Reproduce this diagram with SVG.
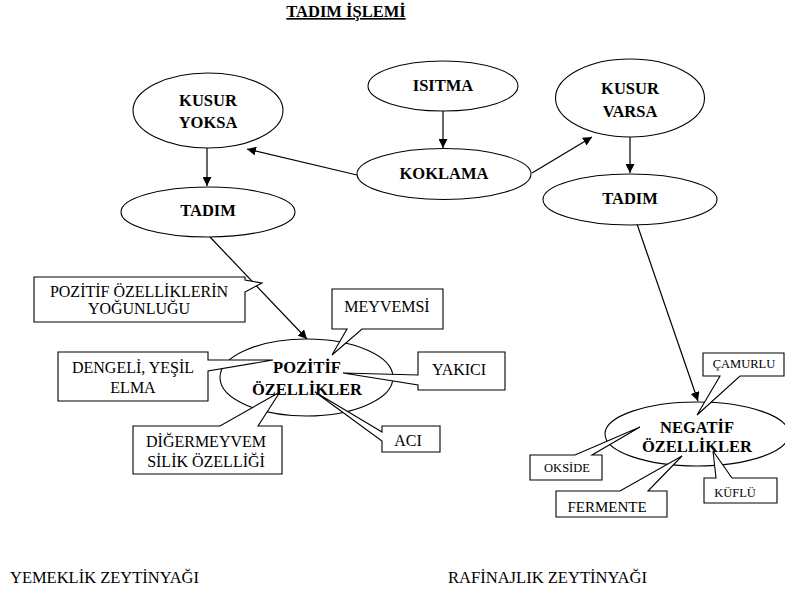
<svg xmlns="http://www.w3.org/2000/svg" width="785" height="598" viewBox="0 0 785 598">
<style>
.bg{fill:#fff}
.el{fill:#fff;stroke:#000;stroke-width:1.1}
.co{fill:#fff;stroke:#000;stroke-width:1.1;stroke-linejoin:miter}
text{font-family:'Liberation Serif','Tinos','Times New Roman','DejaVu Serif',serif;fill:#000;text-anchor:middle}
.nt{font-weight:bold;font-size:16.5px}
.ct{font-size:16px}
.st{font-size:12.5px}
.cn{fill:none;stroke:#000;stroke-width:1.2}
</style>
<defs>
<marker id="ah" viewBox="0 0 10 10" refX="10" refY="5" markerWidth="9" markerHeight="9" markerUnits="userSpaceOnUse" orient="auto">
<path d="M0,0 L10,5 L0,10 Z" fill="#000"/>
</marker>
</defs>
<rect class="bg" x="0" y="0" width="785" height="598"/>

<g id="title">
<text class="nt" x="346" y="17" text-decoration="underline">TADIM İŞLEMİ</text>
</g>

<g id="connectors">
<line class="cn" x1="443" y1="111" x2="443" y2="148" marker-end="url(#ah)"/>
<line class="cn" x1="357" y1="175" x2="247" y2="149" marker-end="url(#ah)"/>
<line class="cn" x1="532" y1="173" x2="592" y2="137" marker-end="url(#ah)"/>
<line class="cn" x1="207" y1="148" x2="207" y2="186" marker-end="url(#ah)"/>
<line class="cn" x1="630" y1="137" x2="630" y2="173" marker-end="url(#ah)"/>
<line class="cn" x1="210" y1="237" x2="307" y2="339" marker-end="url(#ah)"/>
<line class="cn" x1="637" y1="224" x2="698" y2="401" marker-end="url(#ah)"/>
</g>

<g id="isitma">
<ellipse class="el" cx="443" cy="86" rx="75" ry="25"/>
<text class="nt" x="443" y="91">ISITMA</text>
</g>
<g id="koklama">
<ellipse class="el" cx="444" cy="174" rx="87" ry="25.5"/>
<text class="nt" x="444" y="179">KOKLAMA</text>
</g>
<g id="kusur-yoksa">
<ellipse class="el" cx="208" cy="110.5" rx="75" ry="37.5"/>
<text class="nt" x="208" y="106">KUSUR</text>
<text class="nt" x="208" y="128">YOKSA</text>
</g>
<g id="kusur-varsa">
<ellipse class="el" cx="630" cy="98" rx="74.5" ry="39"/>
<text class="nt" x="630" y="93.5">KUSUR</text>
<text class="nt" x="630" y="116.5">VARSA</text>
</g>
<g id="tadim-left">
<ellipse class="el" cx="208" cy="212" rx="87" ry="25"/>
<text class="nt" x="208" y="216">TADIM</text>
</g>
<g id="tadim-right">
<ellipse class="el" cx="630" cy="199.5" rx="87" ry="25.5"/>
<text class="nt" x="630" y="204">TADIM</text>
</g>
<g id="pozitif">
<ellipse class="el" cx="306.5" cy="377.5" rx="86.5" ry="38.5"/>
</g>
<g id="negatif">
<ellipse class="el" cx="697" cy="434" rx="92" ry="32"/>
</g>

<g id="callout-yogunluk">
<path class="co" d="M34,277 H245 V280 L262,283 L245,292 V322 H34 Z"/>
<text class="ct" x="139" y="297">POZİTİF ÖZELLİKLERİN</text>
<text class="ct" x="139" y="314">YOĞUNLUĞU</text>
</g>
<g id="callout-meyvemsi">
<path class="co" d="M332,289 H443 V329 H362 L332,355 L347,329 H332 Z"/>
<text class="ct" x="387" y="312">MEYVEMSİ</text>
</g>
<g id="callout-yakici">
<path class="co" d="M418,352 H505 V390 H418 V385 L343,373 L418,375 Z"/>
<text class="ct" x="459" y="375">YAKICI</text>
</g>
<g id="callout-aci">
<path class="co" d="M382,426 H440 V452 H382 V441 L315,392 L382,432 Z"/>
<text class="ct" x="408" y="446">ACI</text>
</g>
<g id="callout-dengeli">
<path class="co" d="M58,352 H208 V360 L273,360 L208,371 V401 H58 Z"/>
<text class="ct" x="133" y="373">DENGELİ, YEŞİL</text>
<text class="ct" x="133" y="393">ELMA</text>
</g>
<g id="callout-digermeyvemsilik">
<path class="co" d="M133,426 H220 L280,392 L258,426 H282 V474 H133 Z"/>
<text class="ct" x="206" y="447">DİĞERMEYVEM</text>
<text class="ct" x="206" y="467">SİLİK ÖZELLİĞİ</text>
</g>
<g id="callout-camurlu">
<path class="co" d="M703,353 H784 V376 H740 L697,415 L720,376 H703 Z"/>
<text class="st" x="744" y="368">ÇAMURLU</text>
</g>
<g id="callout-okside">
<path class="co" d="M530,455 H575 L640,427 L592,455 H602 V480 H530 Z"/>
<text class="st" x="567" y="472">OKSİDE</text>
</g>
<g id="callout-fermente">
<path class="co" d="M556,491 H620 L682,456 L648,491 H667 V517 H556 Z"/>
<text class="ct" x="607" y="512" style="font-size:15px">FERMENTE</text>
</g>
<g id="callout-kuflu">
<path class="co" d="M704,478 H716 L713,451 L732,478 H777 V503 H704 Z"/>
<text class="st" x="735" y="497">KÜFLÜ</text>
</g>

<g id="pozitif-label">
<text class="nt" x="307" y="373">POZİTİF</text>
<text class="nt" x="307" y="395">ÖZELLİKLER</text>
</g>
<g id="negatif-label">
<text class="nt" x="697" y="433">NEGATİF</text>
<text class="nt" x="697" y="452">ÖZELLİKLER</text>
</g>

<g id="bottom-labels">
<text class="ct" x="10" y="583" style="text-anchor:start" textLength="189" lengthAdjust="spacingAndGlyphs">YEMEKLİK ZEYTİNYAĞI</text>
<text class="ct" x="448" y="583" style="text-anchor:start" textLength="199" lengthAdjust="spacingAndGlyphs">RAFİNAJLIK ZEYTİNYAĞI</text>
</g>
</svg>
